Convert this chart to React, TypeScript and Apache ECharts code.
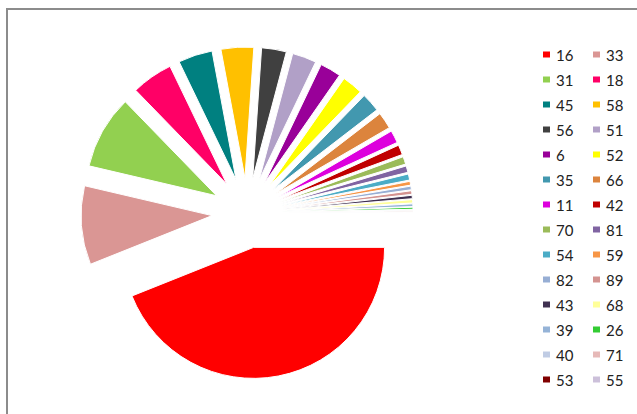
import React, { useEffect, useRef } from "react";
import * as echarts from "echarts";

const categories = ["16", "33", "31", "18", "45", "58", "56", "51", "6", "52", "35", "66", "11", "42", "70", "81", "54", "59", "82", "89", "43", "68", "39", "26", "40", "71", "53", "55"];
const values = [158.4, 35, 32.7, 18.4, 15.2, 14.5, 11, 10.7, 9.3, 9.2, 8.4, 7.4, 5.6, 4.4, 3.4, 2.9, 2.7, 1.7, 1.6, 1.6, 1.5, 1.5, 1.2, 0.9, 0.4, 0.3, 0.3, 0.2];
const colors = ["#FF0000", "#DA9694", "#92D050", "#FF0066", "#008080", "#FFC000", "#404040", "#B1A0C7", "#990099", "#FFFF00", "#4298AF", "#DC843D", "#DD00DD", "#C00000", "#9BBB59", "#8064A2", "#4BACC6", "#F79646", "#97AED4", "#D49390", "#403151", "#FFFF99", "#95B3D7", "#33CC33", "#C0CCE4", "#E6B9B8", "#800000", "#CCC0DA"];

export default function App() {
  const ref = useRef<HTMLDivElement>(null);
  useEffect(() => {
    if (!ref.current) return;
    const chart = echarts.init(ref.current, undefined, { renderer: "svg" });
    chart.setOption({
      animation: false,
      color: colors,
      graphic: [
        {
          type: "rect",
          shape: { x: 7, y: 9, width: 700, height: 500 },
          style: { fill: "none", stroke: "#8c8c8c", lineWidth: 2 },
          silent: true,
        },
      ],
      legend: {
        orient: "horizontal",
        left: 541,
        top: 47,
        width: 90,
        padding: 0,
        itemWidth: 9,
        itemHeight: 8,
        itemGap: 10,
        icon: "rect",
        data: categories,
        formatter: "{a|{name}}",
        textStyle: {
          rich: {
            a: { width: 25, lineHeight: 14.4, fontSize: 15, fontFamily: "Lato", color: "#222" },
          },
        },
      },
      series: [
        {
          type: "pie",
          center: [247, 213],
          radius: 131,
          startAngle: 0,
          clockwise: true,
          selectedMode: "multiple",
          selectedOffset: 35,
          avoidLabelOverlap: false,
          label: { show: false },
          labelLine: { show: false },
          emphasis: { disabled: true },
          itemStyle: { borderColor: "#fff", borderWidth: 1 },
          data: categories.map((name, i) => ({ name, value: values[i], selected: true })),
        },
      ],
    });
    return () => chart.dispose();
  }, []);
  return <div ref={ref} style={{ position: "fixed", left: 0, top: 0, width: 637, height: 414, background: "#fff" }} />;
}
